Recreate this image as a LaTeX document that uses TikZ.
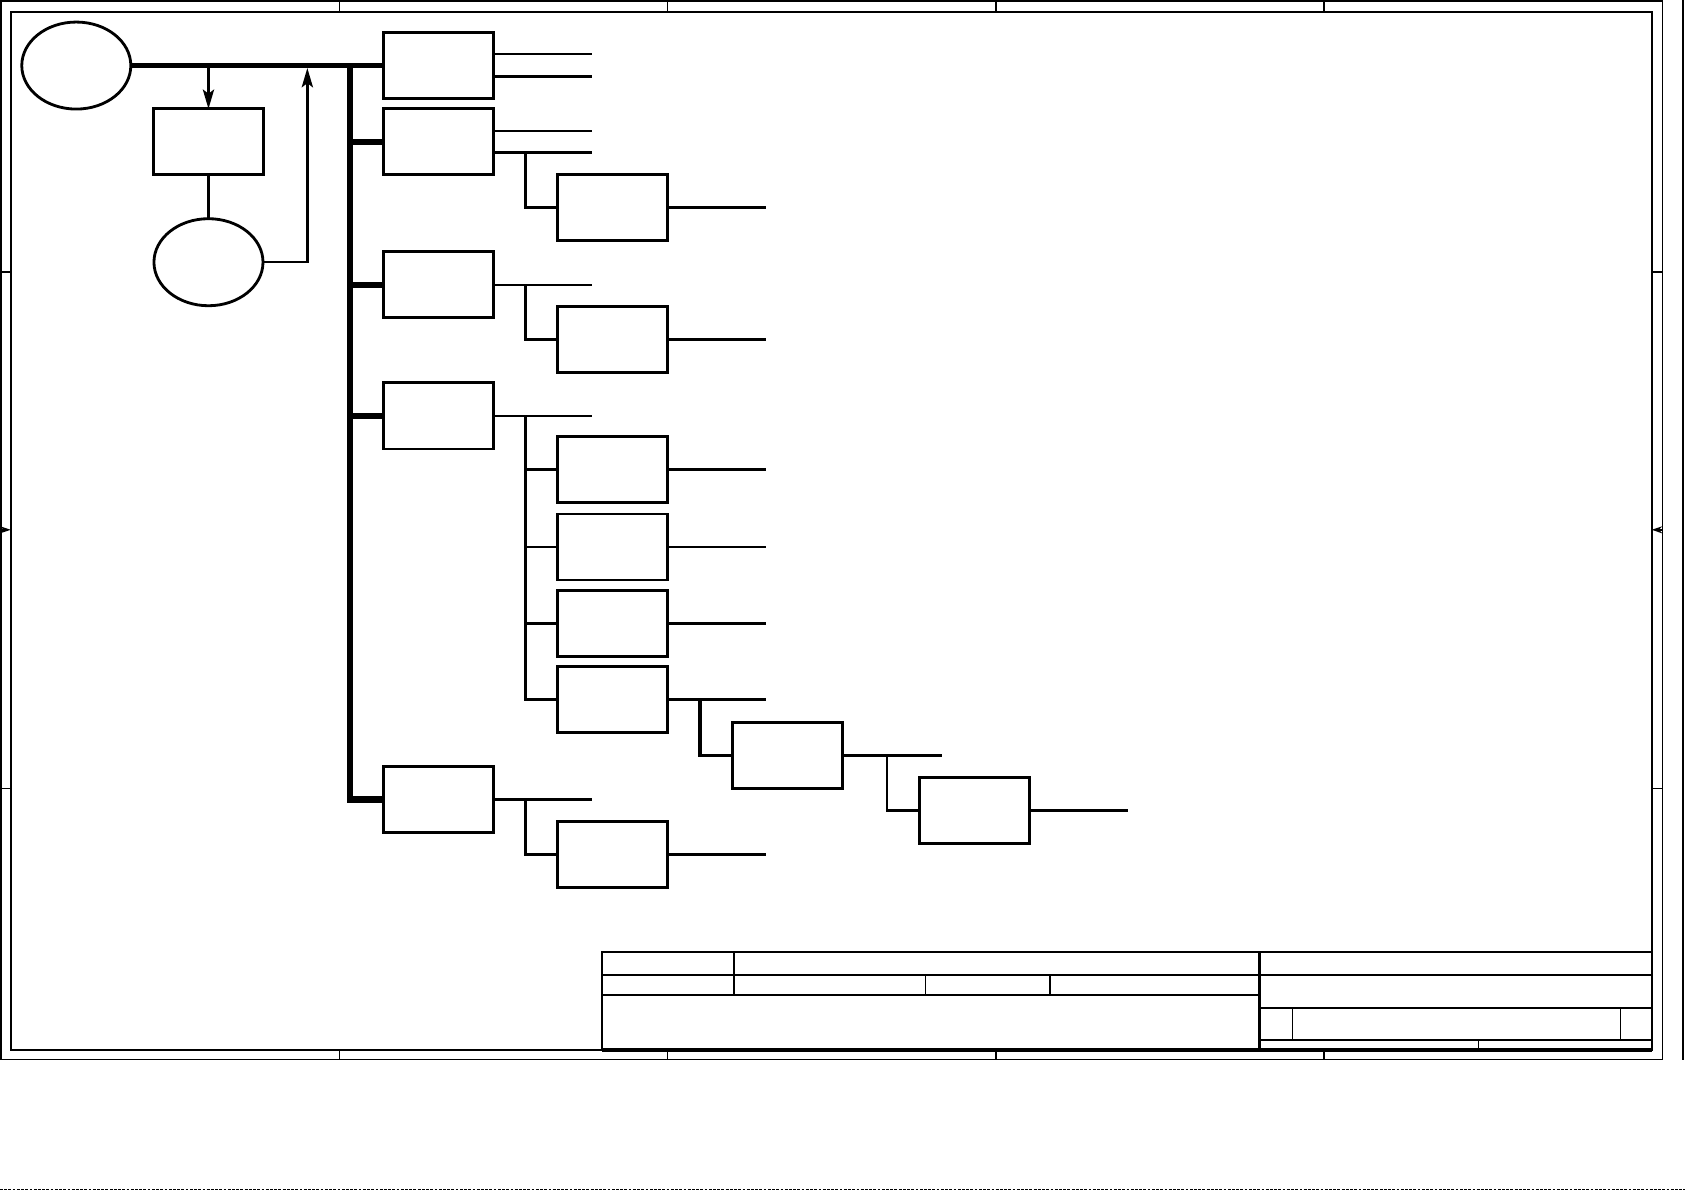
\documentclass[tikz,border=0pt]{standalone}
\usepackage{tikz}
\usetikzlibrary{shapes.geometric, arrows.meta, calc}

\begin{document}
\begin{tikzpicture}[x=0.010746cm, y=-0.010746cm,
    blk/.style={rectangle, draw, line width=0.8pt, minimum width=1.1cm, minimum height=0.66cm, inner sep=0pt, outer sep=0pt},
    oval/.style={ellipse, draw, line width=0.8pt, minimum width=1.09cm, minimum height=0.87cm, inner sep=0pt, outer sep=0pt},
    wire/.style={line width=0.7pt},
    trunk/.style={line width=1.6pt},
    arr/.style={line width=0.7pt, -{Stealth[length=5.5pt, width=3.2pt, inset=1.2pt]}},
    frm/.style={line width=0.4pt}]
    \useasboundingbox (0,0) rectangle (1568,1108);

    % Draw frame
    \draw[frm] (1,1) rectangle (1547,986);
    \draw[line width=0.6pt] (10,11) rectangle (1537,977);
    \draw[frm] (1566,0) -- (1566,986);
    \foreach \x in {316,621,927,1232} {
        \draw[frm] (\x,1) -- (\x,11);
        \draw[frm] (\x,977) -- (\x,986);
    }
    \foreach \y in {253,734} {
        \draw[frm] (1,\y) -- (10,\y);
        \draw[frm] (1537,\y) -- (1547,\y);
    }
    \draw[frm, -{Stealth[length=3pt, width=2pt]}] (1,493) -- (10,493);
    \draw[frm, -{Stealth[length=3pt, width=2pt]}] (1547,493) -- (1537,493);
    \draw[line width=0.4pt, dash pattern=on 0.8pt off 0.4pt] (0,1107) -- (1568,1107);

    % Title block
    \draw[line width=0.6pt] (560,886) rectangle (1537,977);
    \draw[line width=1pt] (560,977) -- (1537,977);
    \draw[line width=0.6pt] (560,907) -- (1537,907);
    \draw[line width=0.6pt] (560,926) -- (1172,926);
    \draw[line width=0.6pt] (683,886) -- (683,926);
    \draw[line width=0.6pt] (1172,886) -- (1172,977);
    \draw[frm] (861,907) -- (861,926);
    \draw[frm] (977,907) -- (977,926);
    \draw[line width=0.6pt] (1172,938) -- (1537,938);
    \draw[line width=0.6pt] (1172,968) -- (1537,968);
    \draw[frm] (1203,938) -- (1203,968);
    \draw[frm] (1508,938) -- (1508,968);
    \draw[frm] (1376,968) -- (1376,977);

    % Draw nodes
    \node[oval] (src) at (71,61) {};
    \node[blk] (ctl) at (194,132) {};
    \node[oval] (fbk) at (194,244) {};
    \node[blk] (a1) at (408,61) {};
    \node[blk] (a2) at (408,132) {};
    \node[blk] (a3) at (408,265) {};
    \node[blk] (a4) at (408,387) {};
    \node[blk] (a5) at (408,744) {};
    \node[blk] (c1) at (570,193) {};
    \node[blk] (c2) at (570,316) {};
    \node[blk] (c3) at (570,437) {};
    \node[blk] (c4) at (570,509) {};
    \node[blk] (c5) at (570,580) {};
    \node[blk] (c6) at (570,651) {};
    \node[blk] (c7) at (570,795) {};
    \node[blk] (d1) at (733,703) {};
    \node[blk] (e1) at (907,754) {};

    % Draw connections
    \coordinate (s) at (326,61);
    \coordinate (fb) at (286,61);
    \draw[trunk] (src.east) -- (a1.west);
    \draw[trunk, line width=1.8pt] (s) -- (s |- a5.west) -- (a5.west);
    \foreach \n in {a2,a3,a4}
        \draw[trunk] (s |- \n.west) -- (\n.west);
    \draw[arr] (ctl.north |- src.east) -- (ctl.north);
    \draw[wire] (ctl) -- (fbk);
    \draw[arr, shorten >=0.7pt] (fbk.east) -| (fb);

    % Outputs
    \foreach \n/\dy in {a1/-11, a1/10, a2/-10, a2/10, a3/0, a4/0, a5/0}
        \draw[wire] (\n.east) ++(0,\dy) -- ++(92,0);
    \foreach \n in {c1,c2,c3,c4,c5,c6,d1}
        \draw[wire] (\n.east) -- ++(92,0);
    \draw[wire, line width=1pt] (c7.east) -- ++(92,0);
    \draw[wire] (e1.east) -- ++(91,0);

    % Branches
    \draw[wire] (c1.west) -| ($(a2.east)+(30,10)$);
    \draw[wire] (c2.west) -| ($(a3.east)+(30,0)$);
    \draw[wire] (c6.west) -| ($(a4.east)+(30,0)$);
    \foreach \n in {c3,c4,c5}
        \draw[wire] (\n.west) -- ++(-30,0);
    \draw[wire, line width=1pt] (d1.west) -| ($(c6.east)+(30,0)$);
    \draw[wire] (e1.west) -| ($(d1.east)+(41,0)$);
    \draw[wire] (c7.west) -| ($(a5.east)+(30,0)$);
\end{tikzpicture}
\end{document}
